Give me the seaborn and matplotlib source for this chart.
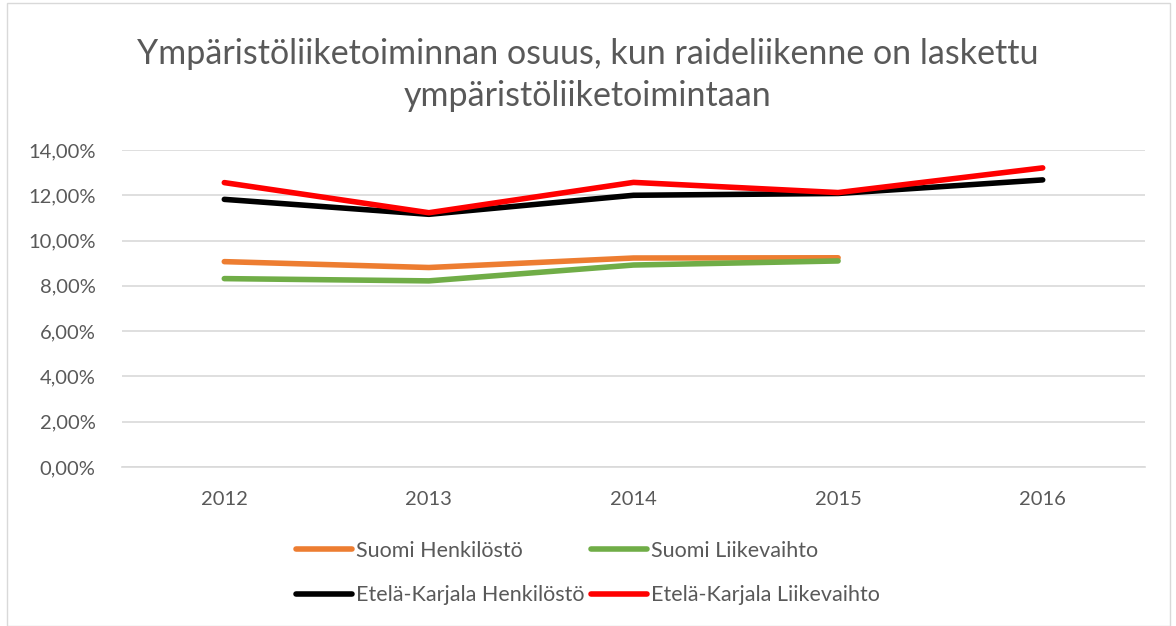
import matplotlib
matplotlib.use("Agg")
import matplotlib.pyplot as plt
import seaborn as sns
import numpy as np
import pandas as pd
from matplotlib.ticker import FuncFormatter
from matplotlib.patches import Rectangle

years = [2012, 2013, 2014, 2015, 2016]
series_names = ["Suomi Henkilöstö", "Suomi Liikevaihto",
                "Etelä-Karjala Henkilöstö", "Etelä-Karjala Liikevaihto"]
suomi_henkilosto = [0.0907, 0.0881, 0.0923, 0.0924, np.nan]
suomi_liikevaihto = [0.0832, 0.0822, 0.0892, 0.0910, np.nan]
ek_henkilosto = [0.1182, 0.1116, 0.1200, 0.1208, 0.1268]
ek_liikevaihto = [0.1256, 0.1123, 0.1257, 0.1212, 0.1321]
colors = ["#ED7D31", "#70AD47", "#000000", "#FF0000"]
title = "Ympäristöliiketoiminnan osuus, kun raideliikenne on laskettu\nympäristöliiketoimintaan"

sns.set_theme(style="white")
plt.rcParams['font.family'] = ['Lato', 'DejaVu Sans']

rows = []
for name, vals in zip(series_names, [suomi_henkilosto, suomi_liikevaihto, ek_henkilosto, ek_liikevaihto]):
    for y, v in zip(years, vals):
        rows.append({"Vuosi": y, "Osuus": v, "Sarja": name})
df = pd.DataFrame(rows)

fig = plt.figure(figsize=(11.76, 6.26), dpi=100)
ax = fig.add_axes([122/1176, 1-467/626, (1145-122)/1176, (467-150)/626])

sns.lineplot(data=df, x="Vuosi", y="Osuus", hue="Sarja", hue_order=series_names,
             palette=colors, linewidth=4, ax=ax, legend=True)
for ln in ax.get_lines():
    ln.set_solid_capstyle("round")
    ln.set_solid_joinstyle("round")

ax.set_xlim(2011.5, 2016.5)
ax.set_ylim(0, 0.14)
ax.set_yticks(np.arange(0, 0.141, 0.02))
ax.yaxis.set_major_formatter(FuncFormatter(lambda v, p: f"{v*100:.2f}%".replace(".", ",")))
ax.set_xticks(years)
ax.set_xticklabels([str(y) for y in years])
ax.grid(axis="y", color="#d9d9d9", linewidth=1.2)
ax.set_axisbelow(True)
for s in ["top", "right", "left"]:
    ax.spines[s].set_visible(False)
ax.spines["bottom"].set_color("#d9d9d9")
ax.spines["bottom"].set_linewidth(1.2)
ax.tick_params(axis="both", length=0, labelsize=14.5, colors="#595959")
ax.tick_params(axis="y", pad=19)
ax.tick_params(axis="x", pad=17)
ax.set_xlabel("")
ax.set_ylabel("")

handles, labels = ax.get_legend_handles_labels()
order = [0, 2, 1, 3]
leg = ax.legend([handles[i] for i in order], [labels[i] for i in order], ncol=2,
                loc="center", bbox_to_anchor=(0.5, 1-573/626), bbox_transform=fig.transFigure,
                frameon=False, fontsize=15.5, handlelength=2.6, handletextpad=0.2,
                columnspacing=0.3, labelspacing=1.15)
for t in leg.get_texts():
    t.set_color("#595959")
for h in leg.get_lines():
    h.set_linewidth(4)
    h.set_solid_capstyle("round")

fig.text(0.5, 1-75/626, title, ha="center", va="center", fontsize=24.5,
         color="#595959", linespacing=1.38)

fig.patches.append(Rectangle((7/1176, 0), (1170-7)/1176, 1-3/626, transform=fig.transFigure,
                             fill=False, edgecolor="#d9d9d9", linewidth=1))

fig.savefig("out.png", dpi=100)
